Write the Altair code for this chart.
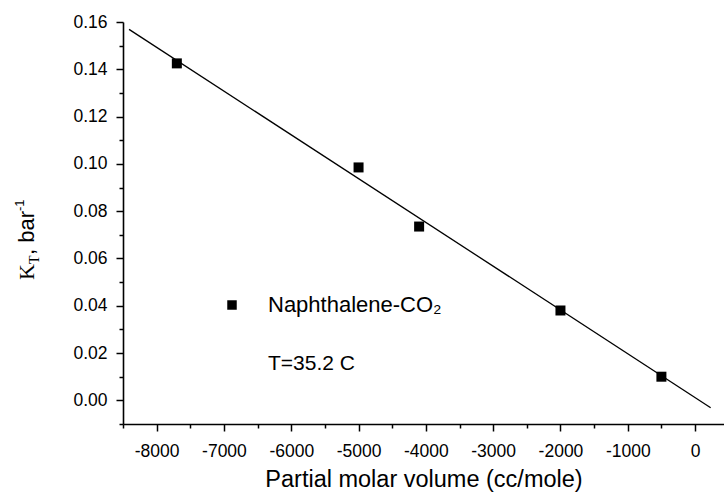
import altair as alt
import pandas as pd

# ---- data ----
vol = [-7700, -5000, -4100, -2000, -500]
kt = [0.1425, 0.0985, 0.0735, 0.0380, 0.0100]
fit_vol = [-8410, 232]
fit_kt = [0.1569, -0.0031]
x_ticks = [-8500, -8000, -7500, -7000, -6500, -6000, -5500, -5000, -4500,
           -4000, -3500, -3000, -2500, -2000, -1500, -1000, -500, 0]
y_ticks = [-0.01, 0.00, 0.01, 0.02, 0.03, 0.04, 0.05, 0.06, 0.07, 0.08,
           0.09, 0.10, 0.11, 0.12, 0.13, 0.14, 0.15, 0.16]
legend_label = "Naphthalene-CO\u2082"
temp_label = "T=35.2 C"
x_title = "Partial molar volume (cc/mole)"

FONT = "Liberation Sans"
W, H = 601, 402

pts = pd.DataFrame({"vol": vol, "kt": kt})
fit = pd.DataFrame({"vol": fit_vol, "kt": fit_kt})
one = pd.DataFrame({"a": [0]})

xs = alt.Scale(domain=[-8500, 430], nice=False, zero=False)
ys = alt.Scale(domain=[-0.01, 0.16], nice=False, zero=False)

x_axis = alt.Axis(
    values=x_ticks,
    labelExpr="datum.value % 1000 === 0 ? '' + datum.value : ''",
    tickSize={"condition": {"test": "datum.value % 1000 === 0", "value": 7}, "value": 4},
    labelPadding=11,
    labelFont=FONT, labelFontSize=17.5, labelColor="black",
    title=x_title, titleFont=FONT, titleFontSize=23.5, titleFontWeight="normal",
    titleColor="black", titleBaseline="alphabetic", titleY=62,
    domainColor="black", domainWidth=1.6, tickColor="black", tickWidth=1.5,
    grid=False, labelFlush=False, labelOverlap=False,
)
y_axis = alt.Axis(
    values=y_ticks,
    labelExpr="round(datum.value * 100) % 2 === 0 ? format(datum.value, '.2f') : ''",
    tickSize={"condition": {"test": "round(datum.value * 100) % 2 === 0", "value": 7}, "value": 4},
    labelPadding=9,
    labelFont=FONT, labelFontSize=17.5, labelColor="black",
    title=None,
    domainColor="black", domainWidth=1.6, tickColor="black", tickWidth=1.5,
    grid=False, labelFlush=False, labelOverlap=False,
)

line = alt.Chart(fit).mark_line(color="black", strokeWidth=1.3).encode(
    x=alt.X("vol:Q", scale=xs, axis=x_axis),
    y=alt.Y("kt:Q", scale=ys, axis=y_axis),
)
points = alt.Chart(pts).mark_square(size=100, color="black", opacity=1).encode(
    x=alt.X("vol:Q", scale=xs, axis=x_axis),
    y=alt.Y("kt:Q", scale=ys, axis=y_axis),
)

leg_sq = alt.Chart(one).mark_square(size=90, color="black", opacity=1).encode(
    x=alt.value(109), y=alt.value(283)
)
leg_txt = alt.Chart(one).mark_text(
    text=legend_label, font=FONT, fontSize=22, align="left", baseline="middle", color="black"
).encode(x=alt.value(145), y=alt.value(283))
temp_txt = alt.Chart(one).mark_text(
    text=temp_label, font=FONT, fontSize=21, align="left", baseline="middle", color="black"
).encode(x=alt.value(145), y=alt.value(342))

# y-axis title, composed from pieces (K with subscript T, bar with superscript -1)
yt_k = alt.Chart(one).mark_text(
    text="K", font="Liberation Serif", fontSize=22, angle=270, align="left",
    baseline="alphabetic", color="black"
).encode(x=alt.value(-89), y=alt.value(258))
yt_t = alt.Chart(one).mark_text(
    text="T", font="Liberation Serif", fontSize=14, angle=270, align="left",
    baseline="alphabetic", color="black"
).encode(x=alt.value(-84), y=alt.value(242))
yt_bar = alt.Chart(one).mark_text(
    text=", bar", font=FONT, fontSize=22, angle=270, align="left",
    baseline="alphabetic", color="black"
).encode(x=alt.value(-89), y=alt.value(233))
yt_exp = alt.Chart(one).mark_text(
    text="-1", font=FONT, fontSize=13, angle=270, align="left",
    baseline="alphabetic", color="black"
).encode(x=alt.value(-99), y=alt.value(189))

chart = alt.layer(
    line, points, leg_sq, leg_txt, temp_txt, yt_k, yt_t, yt_bar, yt_exp
).properties(
    width=W, height=H,
    autosize=alt.AutoSizeParams(type="none"),
    padding={"left": 123, "top": 22, "right": 0, "bottom": 69},
    background="white",
).configure_view(stroke=None)

chart.save("out.html", embed_options={"renderer": "svg", "actions": False})
